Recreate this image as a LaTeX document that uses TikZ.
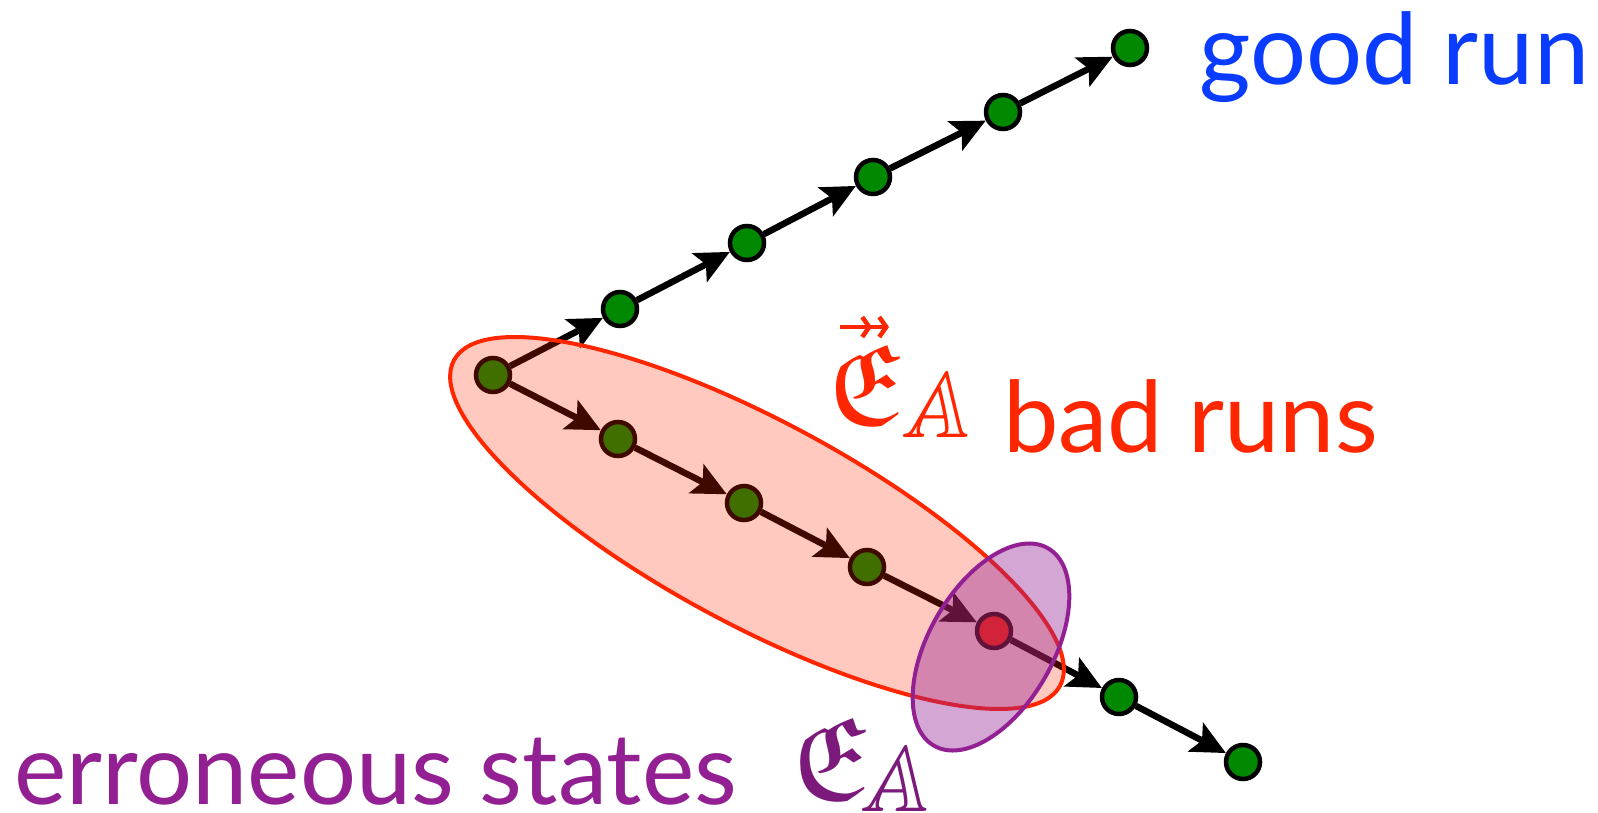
\documentclass[tikz,border=0pt]{standalone}
\usepackage{amsmath}
\usepackage{amssymb}
\usepackage{graphicx}
\usepackage{fontspec}
\setmainfont{Lato}
\usetikzlibrary{arrows.meta}
\definecolor{goodblue}{RGB}{10,60,255}
\definecolor{badred}{RGB}{255,38,0}
\definecolor{errpurple}{RGB}{146,32,146}
\definecolor{errdark}{RGB}{124,26,124}
\definecolor{nodegreen}{RGB}{0,136,0}
\begin{document}
\begin{tikzpicture}[x=1pt,y=-1pt,
  state/.style={circle, draw=black, line width=4.5pt, fill=nodegreen, minimum size=34pt, inner sep=0pt},
  errstate/.style={state, fill=badred},
  trans/.style={line width=6.5pt, -{Stealth[length=34pt,width=32pt,inset=7pt]}},
  lbl/.style={font=\fontsize{99}{110}\selectfont, inner sep=0pt, anchor=base west, text depth=0pt},
  sym/.style={inner sep=0pt, anchor=base west, text depth=0pt},
  badset/.style={fill=badred, fill opacity=0.25, draw=badred, draw opacity=1, line width=4pt},
  errset/.style={fill=errpurple, fill opacity=0.4, draw=errpurple, draw opacity=1, line width=4pt},
  accent/.style={draw=badred, line width=4.5pt, -{Straight Barb[length=7pt,width=20pt,sep=5pt] Straight Barb[length=7pt,width=20pt]}},
]
\useasboundingbox (0,0) rectangle (1598,813);
% good run
\node[state] (g1) at (493,375) {};
\node[state] (g2) at (620,309) {};
\node[state] (g3) at (747,243) {};
\node[state] (g4) at (873,177) {};
\node[state] (g5) at (1003,112) {};
\node[state] (g6) at (1130,48) {};
% bad run
\node[state] (b2) at (618,439) {};
\node[state] (b3) at (744,503) {};
\node[state] (b4) at (867,567) {};
\node[errstate] (b5) at (994,631) {};
\node[state] (b6) at (1119,697) {};
\node[state] (b7) at (1243,762) {};
\draw[trans] (g1) -- (g2);
\draw[trans] (g2) -- (g3);
\draw[trans] (g3) -- (g4);
\draw[trans] (g4) -- (g5);
\draw[trans] (g5) -- (g6);
\draw[trans] (g1) -- (b2);
\draw[trans] (b2) -- (b3);
\draw[trans] (b3) -- (b4);
\draw[trans] (b4) -- (b5);
\draw[trans] (b5) -- (b6);
\draw[trans] (b6) -- (b7);
% sets
\path[badset, rotate around={-28.25:(757,523)}] (757,523) ellipse [x radius=344pt, y radius=102pt];
\path[errset, rotate around={60:(991,647)}] (991,647) ellipse [x radius=114pt, y radius=62pt];
% labels
\node[lbl, text=goodblue] (goodlbl) at (1199,85) {good run};
\node[lbl, text=badred] (badlbl) at (1003,452) {bad runs};
\node[lbl, text=errpurple] (errlbl) at (14,804) {erroneous states};
% symbols
\node[sym, text=badred] (Ebad) at (826,424) {\scalebox{11.5}{$\mathfrak{E}$}};
\begin{scope}[shift={(901,437)}, xslant=0.2]
\node[sym, text=badred, transform shape] (Abad) at (0,0) {\scalebox{9.4}{$\mathbb{A}$}};
\end{scope}
\coordinate (arrL) at (840,327);
\coordinate (arrR) at (889,327);
\draw[accent] (arrL) -- (arrR);
\node[sym, text=errdark] (Eerr) at (790,799) {\scalebox{11.8}{$\mathfrak{E}$}};
\begin{scope}[shift={(860,811)}, xslant=0.2]
\node[sym, text=errdark, transform shape] (Aerr) at (0,0) {\scalebox{9.4}{$\mathbb{A}$}};
\end{scope}
\end{tikzpicture}
\end{document}
